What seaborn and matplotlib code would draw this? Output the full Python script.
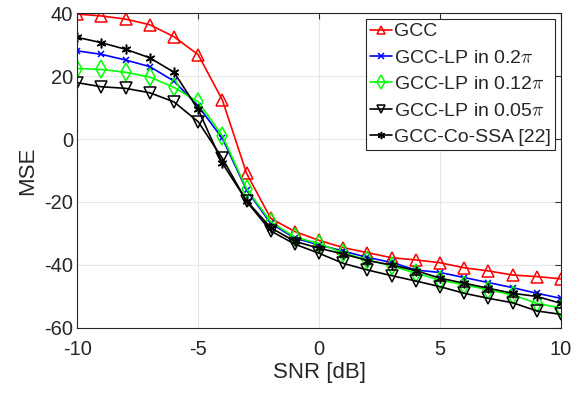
import numpy as np
import pandas as pd
import matplotlib
matplotlib.use("Agg")
import matplotlib.pyplot as plt
import seaborn as sns

# SNR values in dB
snr = list(range(-10, 11))

# MSE curves
gcc = [39.7, 39.1, 38.1, 36.3, 32.5, 26.8, 12.4, -10.9, -25.2, -29.4, -32.2,
       -34.5, -36.1, -37.7, -38.4, -39.3, -40.9, -41.9, -43.2, -43.7, -44.4]
lp_02 = [28.0, 26.9, 25.1, 23.0, 18.4, 10.5, 0.2, -16.2, -26.8, -31.5, -33.6,
         -35.6, -37.6, -39.2, -41.6, -42.4, -44.0, -45.6, -47.2, -49.0, -50.6]
lp_012 = [22.4, 22.1, 21.2, 19.7, 16.4, 11.8, 1.0, -15.8, -26.3, -31.2, -33.2,
          -36.2, -38.4, -40.3, -42.6, -44.8, -46.3, -47.9, -49.5, -52.2, -53.7]
lp_005 = [17.9, 16.6, 16.1, 14.7, 11.8, 5.5, -6.1, -19.8, -29.2, -33.4, -36.3,
          -39.5, -41.6, -43.4, -45.1, -46.9, -49.0, -50.6, -52.0, -54.6, -55.7]
co_ssa = [32.3, 30.6, 28.5, 25.8, 21.2, 9.4, -7.7, -19.6, -28.2, -32.5, -34.7,
          -36.5, -38.6, -40.0, -41.8, -44.2, -45.8, -47.4, -49.0, -50.0, -52.2]

labels = ["GCC", r"GCC-LP in 0.2$\pi$", r"GCC-LP in 0.12$\pi$",
          r"GCC-LP in 0.05$\pi$", "GCC-Co-SSA [22]"]
colors = ["#ff0000", "#0000ff", "#00ff00", "#000000", "#000000"]
markers = ["^", "x", "d", "v", (6, 2, 0)]
sizes = [8, 5, 9, 8, 7]

sns.set_style("white")
plt.rcParams["font.family"] = ["Liberation Sans", "DejaVu Sans"]
plt.rcParams["mathtext.fontset"] = "cm"
plt.rcParams["axes.unicode_minus"] = False

fig, ax = plt.subplots(figsize=(5.85, 3.97), dpi=100)

for vals, lab, c, m, s in zip([gcc, lp_02, lp_012, lp_005, co_ssa],
                              labels, colors, markers, sizes):
    df = pd.DataFrame({"SNR": snr, "MSE": vals})
    filled = m in ("x", (6, 2, 0))
    sns.lineplot(data=df, x="SNR", y="MSE", ax=ax, color=c, marker=m,
                 markersize=s, linewidth=1.2, label=lab,
                 markerfacecolor=c if filled else "none",
                 markeredgecolor=c, markeredgewidth=1.1)

ax.set_xlim(-10, 10)
ax.set_ylim(-60, 40)
ax.set_xticks([-10, -5, 0, 5, 10])
ax.set_yticks([-60, -40, -20, 0, 20, 40])
ax.grid(True, color="#e6e6e6", linewidth=0.8)
ax.tick_params(direction="in", labelsize=14.5, length=4, color="#333333",
               top=True, right=True, labelcolor="#262626", pad=3)
ax.tick_params(axis="x", pad=9)
for sp in ax.spines.values():
    sp.set_color("#262626")
    sp.set_linewidth(0.8)
ax.set_xlabel("SNR [dB]", fontsize=16, color="#262626", labelpad=2)
ax.set_ylabel("MSE", fontsize=16, color="#262626", labelpad=4)

leg = ax.legend(loc="upper right", fontsize=14, fancybox=False, framealpha=1,
                edgecolor="#262626", handlelength=1.1, handletextpad=0.15,
                borderpad=0.2, labelspacing=0.45, borderaxespad=0.3,
                markerscale=0.75)
leg.get_frame().set_linewidth(0.8)

plt.subplots_adjust(left=0.132, right=0.959, top=0.967, bottom=0.174)
fig.savefig("out.png", dpi=100)
